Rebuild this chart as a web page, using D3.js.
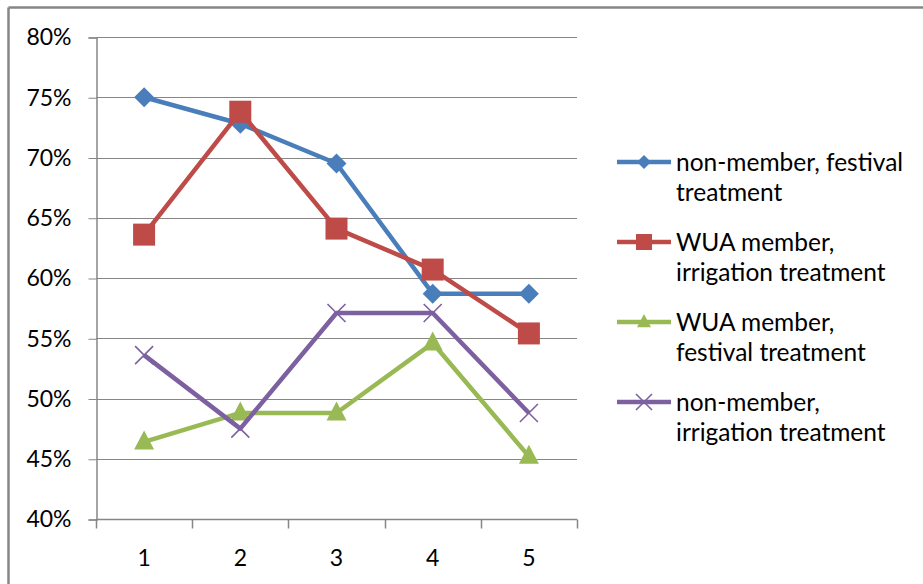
<!DOCTYPE html>
<html><head><meta charset="utf-8">
<script src="https://cdn.jsdelivr.net/npm/d3@7"></script>
<style>body{margin:0;background:#fff}svg{display:block}text{font-family:Lato,"Open Sans",sans-serif;fill:#000}</style>
</head><body>
<svg id="c" width="923" height="584"></svg>
<script>
const categories = ["1","2","3","4","5"];
const seriesNames = ["non-member, festival treatment","WUA member, irrigation treatment","WUA member, festival treatment","non-member, irrigation treatment"];
const legendLines = [["non-member, festival","treatment"],["WUA member,","irrigation treatment"],["WUA member,","festival treatment"],["non-member,","irrigation treatment"]];
const nonMemberFestival = [75.0, 72.8, 69.5, 58.7, 58.7];
const wuaIrrigation = [63.6, 73.8, 64.1, 60.7, 55.4];
const wuaFestival = [46.4, 48.8, 48.8, 54.6, 45.2];
const nonMemberIrrigation = [53.6, 47.5, 57.1, 57.1, 48.8];
const yTicks = [40,45,50,55,60,65,70,75,80];
const colors = ["#4A7EBB","#BE4B48","#98B954","#7D60A0"];
const markers = ["diamond","square","triangle","x"];

const series = [nonMemberFestival, wuaIrrigation, wuaFestival, nonMemberIrrigation];
const svg = d3.select("#c");
const grid = "#868686";

// outer border
svg.append("line").attr("x1",8.5).attr("x2",8.5).attr("y1",7.5).attr("y2",584).attr("stroke",grid).attr("stroke-width",2.5);
svg.append("line").attr("x1",8.5).attr("x2",923).attr("y1",7.5).attr("y2",7.5).attr("stroke",grid).attr("stroke-width",2.5);

const x = d3.scaleBand().domain(categories).range([96,577]);
const y = d3.scaleLinear().domain([40,80]).range([519,37]);

// gridlines
svg.append("g").selectAll("line").data(yTicks).join("line")
  .attr("x1",96).attr("x2",577).attr("y1",d=>Math.round(y(d))+0.5).attr("y2",d=>Math.round(y(d))+0.5)
  .attr("stroke",grid).attr("stroke-width",1);

// y axis
const yAxis = svg.append("g").attr("transform","translate(96.5,0.5)")
  .call(d3.axisLeft(y).tickValues(yTicks).tickSize(8).tickPadding(17).tickFormat(d=>d+"%"));
yAxis.select(".domain").attr("stroke",grid).attr("stroke-width",1.5);
yAxis.selectAll(".tick line").attr("stroke",grid);
yAxis.selectAll("text").attr("font-size",23).attr("font-family","Lato").attr("fill","#000");

// x axis
const xAxis = svg.append("g").attr("transform","translate(0,519.5)");
xAxis.append("line").attr("x1",96).attr("x2",577).attr("stroke",grid).attr("stroke-width",1.5);
const bounds = categories.map(c=>x(c)).concat([x.range()[1]]);
xAxis.selectAll(".tk").data(bounds).join("line").attr("class","tk")
  .attr("x1",d=>Math.round(d)+0.5).attr("x2",d=>Math.round(d)+0.5).attr("y1",0).attr("y2",9).attr("stroke",grid).attr("stroke-width",1.5);
xAxis.selectAll("text").data(categories).join("text")
  .attr("x",d=>x(d)+x.bandwidth()/2).attr("y",46).attr("text-anchor","middle")
  .attr("font-size",23).text(d=>d);

function marker(g, type, color, size){
  if(type==="diamond"){
    g.append("path").attr("d",`M0,${-size}L${size},0L0,${size}L${-size},0Z`).attr("fill",color);
  } else if(type==="square"){
    g.append("rect").attr("x",-size).attr("y",-size).attr("width",2*size).attr("height",2*size).attr("fill",color);
  } else if(type==="triangle"){
    g.append("path").attr("d",`M0,${-size*1.15}L${size},${size*0.75}L${-size},${size*0.75}Z`).attr("fill",color);
  } else {
    g.append("path").attr("d",`M${-size},${-size}L${size},${size}M${size},${-size}L${-size},${size}`).attr("stroke",color).attr("stroke-width",1.6).attr("fill","none");
  }
}
const msize = [10,11,10,9];
const cx = d=>x(d)+x.bandwidth()/2;

series.forEach((vals,i)=>{
  const g = svg.append("g");
  const line = d3.line().x((v,j)=>cx(categories[j])).y(v=>y(v));
  g.append("path").datum(vals).attr("d",line).attr("fill","none").attr("stroke",colors[i]).attr("stroke-width",4.5).attr("stroke-linejoin","round");
  vals.forEach((v,j)=>{
    const mg = g.append("g").attr("transform",`translate(${cx(categories[j])},${y(v)})`);
    marker(mg, markers[i], colors[i], msize[i]);
  });
});

// legend
const leg = svg.append("g");
legendLines.forEach((lines,i)=>{
  const ly = 162 + i*80;
  const g = leg.append("g").attr("transform",`translate(0,${ly})`);
  g.append("line").attr("x1",617).attr("x2",671).attr("y1",0).attr("y2",0).attr("stroke",colors[i]).attr("stroke-width",4.5);
  const mg = g.append("g").attr("transform","translate(644,0)");
  marker(mg, markers[i], colors[i], [7,8,7,8][i]);
  lines.forEach((t,k)=>{
    g.append("text").attr("x",676).attr("y",k*30).attr("dy","0.35em").attr("font-size",24.5).text(t);
  });
});
</script>
</body></html>
